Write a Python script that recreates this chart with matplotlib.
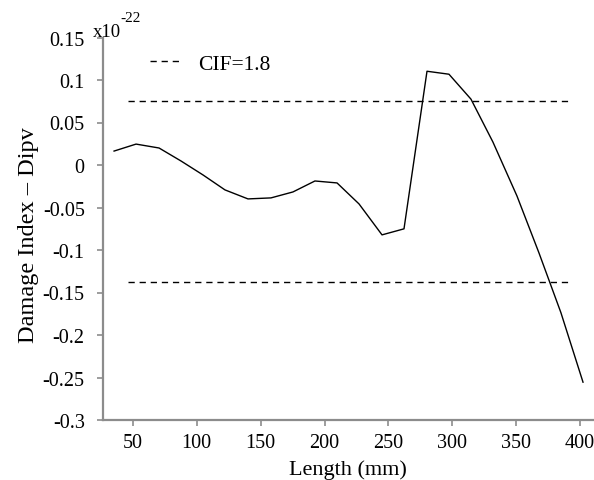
import matplotlib
matplotlib.use("Agg")
import matplotlib.pyplot as plt

# ---- data ----
length_mm = [35.3, 52.5, 70.5, 87.7, 104.9, 122.1, 140.1, 158.1, 175.3, 192.5, 209.8,
             227.0, 245.0, 262.2, 280.2, 297.4, 314.6, 331.8, 350.6, 367.8, 385.0, 402.3]
dipv = [0.0164, 0.0246, 0.0200, 0.0047, -0.0117, -0.0293, -0.0399, -0.0387, -0.0317,
        -0.0188, -0.0211, -0.0458, -0.0822, -0.0751, 0.1103, 0.1068, 0.0775, 0.0270,
        -0.0364, -0.1033, -0.1737, -0.2555]
threshold_x = [46.2, 392.0]
upper_threshold = 0.0751
lower_threshold = -0.1373
threshold_label = "CIF=1.8"

xticks = [50, 100, 150, 200, 250, 300, 350, 400]
xtick_labels = ["50", "100", "150", "200", "250", "300", "350", "400"]
yticks = [0.15, 0.1, 0.05, 0, -0.05, -0.1, -0.15, -0.2, -0.25, -0.3]
ytick_labels = ["0.15", "0.1", "0.05", "0", "-0.05", "-0.1", "-0.15", "-0.2", "-0.25", "-0.3"]
xlabel = "Length (mm)"
ylabel = "Damage Index \u2013 Dipv"
scale_base = "x10"
scale_exp = "-22"

plt.rcParams['font.family'] = ['Liberation Serif', 'DejaVu Serif']

W, H = 594, 481
fig = plt.figure(figsize=(W / 100, H / 100), dpi=100)
left, right, bottom, top = 102.7, 594, 421, 38.5
ax = fig.add_axes([left / W, 1 - bottom / H, (right - left) / W, (bottom - top) / H])

ax.plot(length_mm, dipv, color="black", lw=1.0)
ax.plot(threshold_x, [upper_threshold] * 2, color="black", lw=1.0,
        dashes=(4.5, 3.5), label=threshold_label)
ax.plot(threshold_x, [lower_threshold] * 2, color="black", lw=1.0, dashes=(4.5, 3.5))

ax.set_xlim(26.4, 410.9)
ax.set_ylim(-0.3, 0.15)
ax.set_xticks(xticks)
ax.set_xticklabels(xtick_labels)
ax.set_yticks(yticks)
ax.set_yticklabels(ytick_labels)

for s in ["top", "right"]:
    ax.spines[s].set_visible(False)
for s in ["left", "bottom"]:
    ax.spines[s].set_color("#8c8c8c")
    ax.spines[s].set_linewidth(1.6)

ax.tick_params(axis="both", colors="#8c8c8c", labelcolor="black", width=1.2,
               length=4.5, direction="out", labelsize=14.5)
ax.tick_params(axis="y", pad=8.5)
ax.tick_params(axis="x", pad=5)

ax.set_xlabel(xlabel, fontsize=16, labelpad=5)
ax.set_ylabel(ylabel, fontsize=17.5)
ax.yaxis.set_label_coords(-0.1303, 0.486)

leg = ax.legend(loc="upper left", bbox_to_anchor=(0.096, 0.958), frameon=False,
                fontsize=15.5, handlelength=1.5, handletextpad=0.74,
                borderpad=0, borderaxespad=0)

fig.text(93 / W, 1 - 37 / H, scale_base, fontsize=13.5, ha="left", va="baseline")
fig.text(120.5 / W, 1 - 22 / H, scale_exp, fontsize=11, ha="left", va="baseline")

fig.savefig("out.png", dpi=100)
